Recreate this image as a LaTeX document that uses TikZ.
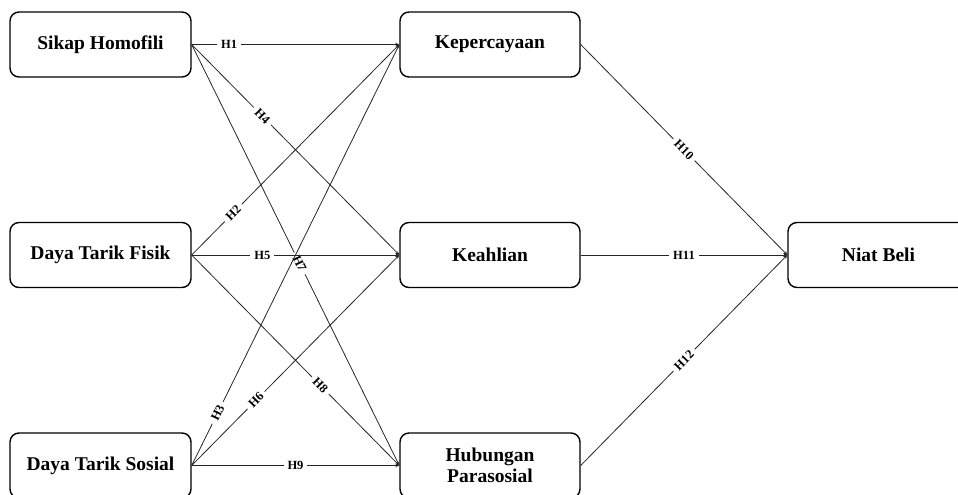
\documentclass[tikz,border=0pt]{standalone}
\usepackage{fontspec}
\setmainfont{Liberation Serif}
\usetikzlibrary{arrows.meta}
\tikzset{
  varbox/.style={draw=black, line width=1.4pt, rounded corners=9pt, minimum width=181pt, minimum height=65pt, align=center, font=\fontsize{19.5}{21.5}\selectfont\bfseries, inner sep=2pt},
  hyp/.style={line width=0.8pt, draw=black!85, -{Stealth[length=4pt,width=3.5pt]}},
  hlab/.style={sloped, fill=white, inner xsep=4pt, inner ysep=1pt, font=\fontsize{12.5}{13}\selectfont\bfseries}
}
\begin{document}
\begin{tikzpicture}[x=1pt,y=-1pt]
\useasboundingbox (0,0) rectangle (958,495);
\clip (0,0) rectangle (958,495);
\node[varbox] (sh) at (100.5,44.5) {Sikap Homofili};
\node[varbox] (df) at (100.5,255) {Daya Tarik Fisik};
\node[varbox] (ds) at (100.5,465.5) {Daya Tarik Sosial};
\node[varbox, minimum width=180pt] (kp) at (490,44.5) {Kepercayaan};
\node[varbox, minimum width=180pt] (ka) at (490,255) {Keahlian};
\node[varbox, minimum width=180pt] (hp) at (490,465.5) {Hubungan\\Parasosial};
\node[varbox, minimum width=181pt] (nb) at (878.5,255) {Niat Beli};

\draw[hyp] (sh.east) -- node[hlab, pos=0.18] {H1} (kp.west);
\draw[hyp] (sh.east) -- node[hlab, pos=0.34] {H4} (ka.west);
\draw[hyp] (sh.east) -- node[hlab, pos=0.52] {H7} (hp.west);
\draw[hyp] (df.east) -- node[hlab, pos=0.2] {H2} (kp.west);
\draw[hyp] (df.east) -- node[hlab, pos=0.34] {H5} (ka.west);
\draw[hyp] (df.east) -- node[hlab, pos=0.62] {H8} (hp.west);
\draw[hyp] (ds.east) -- node[hlab, pos=0.125] {H3} (kp.west);
\draw[hyp] (ds.east) -- node[hlab, pos=0.31] {H6} (ka.west);
\draw[hyp] (ds.east) -- node[hlab, pos=0.5] {H9} (hp.west);
\draw[hyp] (kp.east) -- node[hlab, pos=0.5] {H10} (nb.west);
\draw[hyp] (ka.east) -- node[hlab, pos=0.5] {H11} (nb.west);
\draw[hyp] (hp.east) -- node[hlab, pos=0.5] {H12} (nb.west);
\end{tikzpicture}
\end{document}
